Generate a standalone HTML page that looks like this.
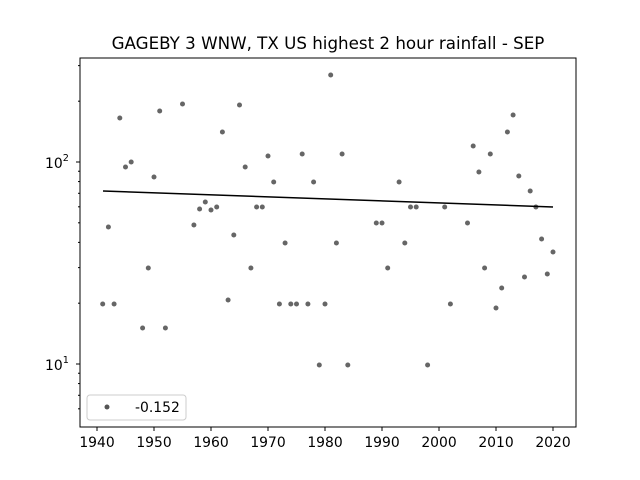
<!DOCTYPE html>
<html><head><meta charset="utf-8"><style>body{margin:0;background:#fff}svg{display:block}text{font-family:"DejaVu Sans","Liberation Sans",sans-serif}</style></head><body>
<svg width="640" height="480" viewBox="0 0 640 480" xmlns="http://www.w3.org/2000/svg">
<rect width="640" height="480" fill="#fff"/>
<text x="328" y="49" font-size="16.7" text-anchor="middle">GAGEBY 3 WNW, TX US highest 2 hour rainfall - SEP</text>
<g id="pts" fill="#555" fill-opacity="0.9"></g>
<line x1="103" y1="191" x2="553" y2="207" stroke="#000" stroke-width="1.5"/>
<rect x="80" y="58" width="496" height="369" fill="none" stroke="#000" stroke-width="1"/>
<g id="tk" stroke="#000" stroke-width="1">
<line x1="97" y1="427" x2="97" y2="431"/><line x1="154" y1="427" x2="154" y2="431"/><line x1="211" y1="427" x2="211" y2="431"/><line x1="268" y1="427" x2="268" y2="431"/><line x1="325" y1="427" x2="325" y2="431"/><line x1="382" y1="427" x2="382" y2="431"/><line x1="439" y1="427" x2="439" y2="431"/><line x1="496" y1="427" x2="496" y2="431"/><line x1="553" y1="427" x2="553" y2="431"/>
<line x1="76" y1="162" x2="80" y2="162"/><line x1="76" y1="364" x2="80" y2="364"/>
</g>
<g font-size="13.9" text-anchor="middle">
<text x="97" y="447">1940</text><text x="154" y="447">1950</text><text x="211" y="447">1960</text><text x="268" y="447">1970</text><text x="325" y="447">1980</text><text x="382" y="447">1990</text><text x="439" y="447">2000</text><text x="496" y="447">2010</text><text x="553" y="447">2020</text>
</g>
<text x="45" y="168" font-size="13.9">10<tspan dy="-7" font-size="9.7">2</tspan></text>
<text x="45" y="370" font-size="13.9">10<tspan dy="-7" font-size="9.7">1</tspan></text>
<rect x="87" y="395" width="99" height="25" rx="3" fill="#fff" stroke="#ccc"/>
<circle cx="107" cy="407" r="2.5" fill="#555"/>
<text x="135" y="412" font-size="13.9">-0.152</text>
</svg>
<script>
var d=[[1941,304],[1942,227],[1943,304],[1944,118],[1945,167],[1946,162],[1948,328],[1949,268],[1950,177],[1951,111],[1952,328],[1955,104],[1957,225],[1958,209],[1959,202],[1960,210],[1961,207],[1962,132],[1963,300],[1964,235],[1965,105],[1966,167],[1967,268],[1968,207],[1969,207],[1970,156],[1971,182],[1972,304],[1973,243],[1974,304],[1975,304],[1976,154],[1977,304],[1978,182],[1979,365],[1980,304],[1981,75],[1982,243],[1983,154],[1984,365],[1989,223],[1990,223],[1991,268],[1993,182],[1994,243],[1995,207],[1996,207],[1998,365],[2001,207],[2002,304],[2005,223],[2006,146],[2007,172],[2008,268],[2009,154],[2010,308],[2011,288],[2012,132],[2013,115],[2014,176],[2015,277],[2016,191],[2017,207],[2018,239],[2019,274],[2020,252]];
var g=document.getElementById('pts'),s='';
d.forEach(function(p){s+='<circle cx="'+(97+(p[0]-1940)*5.7)+'" cy="'+p[1]+'" r="2.5"/>';});
g.innerHTML=s;
var t='',vals=[6,7,8,9,20,30,40,50,60,70,80,90,200,300];
vals.forEach(function(v){var y=364-202*Math.log10(v/10);t+='<line x1="78" y1="'+y+'" x2="80" y2="'+y+'"/>';});
document.getElementById('tk').innerHTML+=t;
</script>
</body></html>
